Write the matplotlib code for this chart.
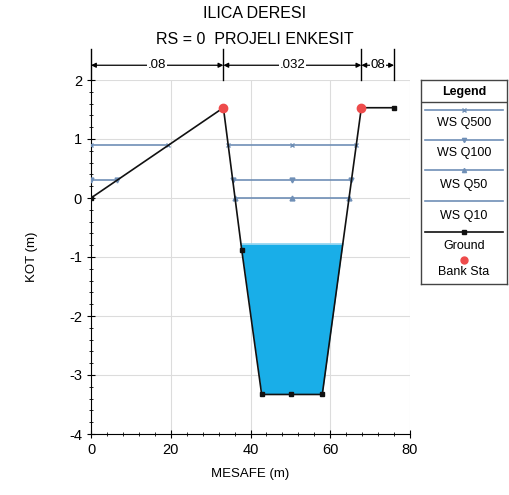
import numpy as np
import matplotlib
matplotlib.use("Agg")
import matplotlib.pyplot as plt
from matplotlib.ticker import MultipleLocator

plt.rcParams["font.family"] = ["Liberation Sans", "DejaVu Sans"]
plt.rcParams["axes.unicode_minus"] = False

# ground profile (station, elevation)
ground_x = [0.0, 33.2, 37.8, 42.8, 50.2, 58.0, 67.8, 76.0]
ground_y = [0.0, 1.53, -0.88, -3.33, -3.33, -3.33, 1.53, 1.53]
bank_x = [33.2, 67.8]
bank_y = [1.53, 1.53]

# water surfaces
ws_names = ["WS Q500", "WS Q100", "WS Q50", "WS Q10"]
ws_elev = [0.89, 0.30, 0.0, -0.78]
ws_markers = ["x", "v", "^", None]

# Manning's n regions
n_labels = [".08", ".032", "08"]
n_edges = [0.0, 33.2, 67.8, 76.0]

ws_color = "#6f8fb6"
fill_color = "#19aee8"


def wet_segments(gx, gy, level):
    segs = []
    start = None
    for i in range(len(gx) - 1):
        x0, x1, y0, y1 = gx[i], gx[i + 1], gy[i], gy[i + 1]
        if start is None and y0 <= level:
            start = x0
        if (y0 - level) * (y1 - level) < 0:
            xc = x0 + (level - y0) / (y1 - y0) * (x1 - x0)
            if y1 < level:
                start = xc
            else:
                segs.append((start, xc))
                start = None
    if start is not None:
        segs.append((start, gx[-1]))
    return [s for s in segs if s[1] - s[0] > 0.5]


fig = plt.figure(figsize=(5.09, 4.95), dpi=100)
ax = fig.add_axes([91 / 509, 61 / 495, 319 / 509, 354 / 495])

gx = np.array(ground_x)
gy = np.array(ground_y)

# filled water for lowest profile
ax.fill_between(gx, gy, ws_elev[-1], where=gy <= ws_elev[-1], interpolate=True,
                color=fill_color, lw=0, zorder=2)

for name, level, mk in zip(ws_names, ws_elev, ws_markers):
    for a, b in wet_segments(ground_x, ground_y, level):
        if b - a > 20:
            xs = [a, (a + b) / 2, b]
        else:
            xs = [a, b]
        ax.plot(xs, [level] * len(xs), color=ws_color if mk else "#8fd3f0", lw=1.2,
                marker=mk if mk else None, ms=3.5, mew=1, zorder=3)

ax.plot(ground_x, ground_y, color="#111111", lw=1.2, marker="s", ms=3.5, zorder=4)
ax.plot(bank_x, bank_y, "o", color="#ee4b4b", ms=6, zorder=5)

ax.set_xlim(0, 80)
ax.set_ylim(-4, 2)
ax.xaxis.set_major_locator(MultipleLocator(20))
ax.xaxis.set_minor_locator(MultipleLocator(4))
ax.yaxis.set_major_locator(MultipleLocator(1))
ax.yaxis.set_minor_locator(MultipleLocator(0.2))
ax.tick_params(which="both", direction="inout", labelsize=10.5)
ax.tick_params(which="major", length=6)
ax.tick_params(which="minor", length=3)
ax.grid(True, which="major", color="#dcdcdc", lw=0.8)
ax.spines["top"].set_visible(False)
ax.spines["right"].set_visible(False)
ax.set_xlabel("MESAFE (m)", fontsize=9.5, labelpad=8)
ax.set_ylabel("KOT (m)", fontsize=9.5, labelpad=22)

# Manning's n bar above plot
y_arrow = 2.25
for xe in n_edges:
    ax.plot([xe, xe], [2.0, 2.52], color="black", lw=1, clip_on=False)
for i, lab in enumerate(n_labels):
    a, b = n_edges[i], n_edges[i + 1]
    ax.annotate("", xy=(a, y_arrow), xytext=(b, y_arrow),
                arrowprops=dict(arrowstyle="<|-|>", color="black", lw=0.9,
                                mutation_scale=7, shrinkA=0, shrinkB=0),
                annotation_clip=False)
    ax.text((a + b) / 2, y_arrow, lab, ha="center", va="center", fontsize=9.5,
            bbox=dict(fc="white", ec="none", pad=0.5), clip_on=False)

fig.text(0.5, 1 - 14 / 495, "ILICA DERESI", ha="center", va="center", fontsize=11.5)
fig.text(0.5, 1 - 39 / 495, "RS = 0  PROJELI ENKESIT", ha="center", va="center",
         fontsize=11.5)

# legend panel
lg = fig.add_axes([421 / 509, (495 - 284) / 495, 86 / 509, 204 / 495])
lg.set_xlim(0, 1)
lg.set_ylim(284, 80)
lg.set_xticks([])
lg.set_yticks([])
for s in lg.spines.values():
    s.set_color("#444444")
    s.set_linewidth(1)
lg.text(0.5, 92, "Legend", ha="center", va="center", fontsize=9, fontweight="bold")
lg.plot([0, 1], [102, 102], color="#444444", lw=1)
line_rows = [110.5, 140, 170, 201]
text_rows = [123, 153, 185, 216]
for name, mk, ly, ty in zip(ws_names, ws_markers, line_rows, text_rows):
    lg.plot([0.05, 0.5, 0.95], [ly] * 3, color=ws_color, lw=1.2,
            marker=mk if mk else None, markevery=[1], ms=3, mew=1)
    lg.text(0.5, ty, name, ha="center", va="center", fontsize=9)
lg.plot([0.05, 0.5, 0.95], [232] * 3, color="#111111", lw=1.2, marker="s",
        markevery=[1], ms=3.5)
lg.text(0.5, 246, "Ground", ha="center", va="center", fontsize=9)
lg.plot([0.5], [260], "o", color="#ee4b4b", ms=5)
lg.text(0.5, 272, "Bank Sta", ha="center", va="center", fontsize=9)

fig.savefig("out.png", dpi=100)
